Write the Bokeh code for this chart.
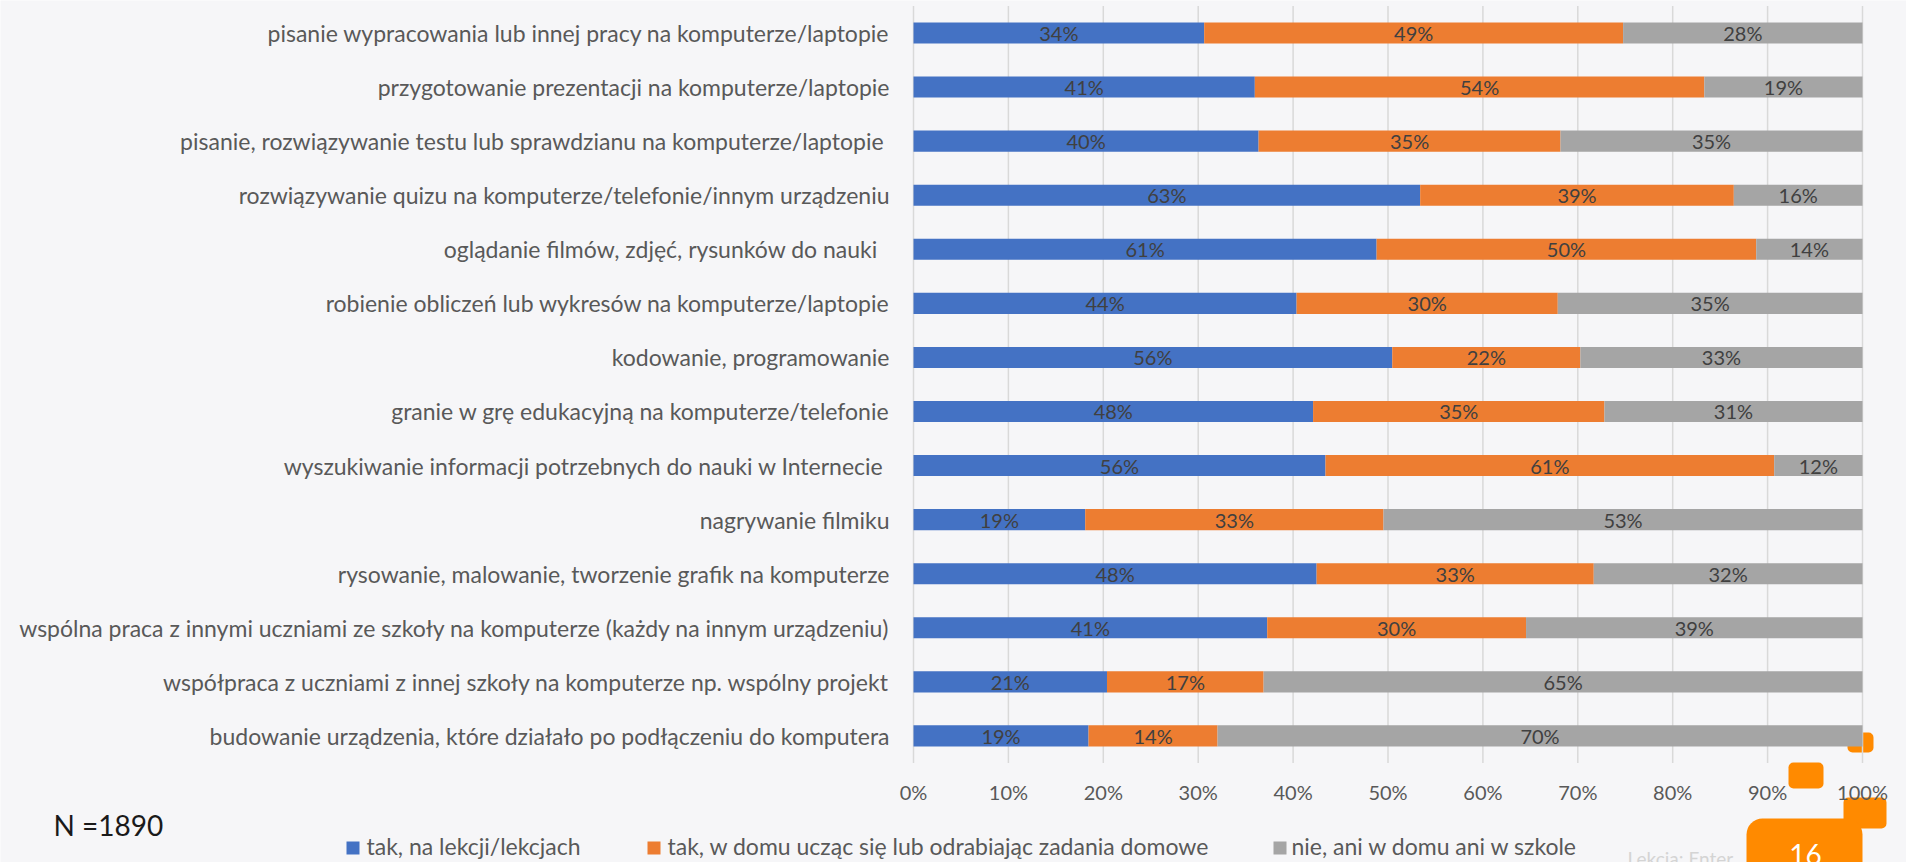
from bokeh.plotting import figure
from bokeh.models import ColumnDataSource, Range1d, Label, BoxAnnotation
from bokeh.core.properties import value
from bokeh.embed import file_html
from bokeh.resources import INLINE

# ---------------- data ----------------
categories = [
    "pisanie wypracowania lub innej pracy na komputerze/laptopie",
    "przygotowanie prezentacji na komputerze/laptopie",
    "pisanie, rozwiązywanie testu  lub sprawdzianu na komputerze/laptopie",
    "rozwiązywanie quizu na komputerze/telefonie/innym urządzeniu",
    "oglądanie filmów, zdjęć, rysunków do nauki  ",
    "robienie obliczeń lub wykresów na komputerze/laptopie",
    "kodowanie, programowanie",
    "granie w grę edukacyjną na komputerze/telefonie",
    "wyszukiwanie informacji  potrzebnych do nauki w Internecie",
    "nagrywanie filmiku",
    "rysowanie, malowanie, tworzenie grafik na komputerze",
    "wspólna praca z innymi uczniami ze szkoły na komputerze (każdy na innym urządzeniu)",
    "współpraca z uczniami z innej szkoły na komputerze np. wspólny projekt",
    "budowanie urządzenia, które działało po podłączeniu do komputera",
]
lesson = [34, 41, 40, 63, 61, 44, 56, 48, 56, 19, 48, 41, 21, 19]
home = [49, 54, 35, 39, 50, 30, 22, 35, 61, 33, 33, 30, 17, 14]
neither = [28, 19, 35, 16, 14, 35, 33, 31, 12, 53, 32, 39, 65, 70]
series_names = [
    "tak, na lekcji/lekcjach",
    "tak, w domu ucząc się lub odrabiając zadania domowe",
    "nie, ani w domu ani w szkole",
]
colors = ["#4472C4", "#ED7D31", "#A5A5A5"]
x_ticks = [0, 0.1, 0.2, 0.3, 0.4, 0.5, 0.6, 0.7, 0.8, 0.9, 1.0]
x_tick_labels = ["0%", "10%", "20%", "30%", "40%", "50%", "60%", "70%", "80%", "90%", "100%"]
n_text = "N =1890"
slide_no = "16"
slide_footer = "Lekcja: Enter"

BG = "#F6F6F8"
FONT = "Lato"

# ---------------- layout constants (pixels) ----------------
W, H = 1906, 862
X0, X1 = 913, 1862          # page x of 0% and 100%
Y0, DY = 32.5, 54.07        # page y of first category centre, category step

n = len(categories)
idx = list(range(n))

p = figure(width=W, height=H, output_backend="svg", toolbar_location=None,
           x_axis_type=None, y_axis_type=None,
           x_range=Range1d(-X0 / (X1 - X0), (W - X0) / (X1 - X0)),
           y_range=Range1d((H - Y0) / DY, -Y0 / DY),
           min_border=0, min_border_left=0, min_border_right=0,
           min_border_top=0, min_border_bottom=0)
p.background_fill_color = BG
p.border_fill_color = BG
p.outline_line_color = None
p.grid.visible = False


def sy(Y):
    # page y (from top) -> screen units (from bottom)
    return H - Y


# slide decorations (behind the chart)
ORANGE = "#FF8A00"
deco = [
    (1847, 1873, 732, 752, 5),
    (1788, 1823, 762, 788, 5),
    (1843, 1886, 797, 828, 5),
    (1746, 1862, 818, 900, 16),
]
for l, r, t, b, rad in deco:
    p.add_layout(BoxAnnotation(left=l, right=r, top=sy(t), bottom=sy(b),
                               left_units="screen", right_units="screen",
                               top_units="screen", bottom_units="screen",
                               fill_color=ORANGE, fill_alpha=1, line_color=None,
                               border_radius=rad, level="underlay"))

# vertical grid lines spanning the category bands
p.segment(x0=x_ticks, x1=x_ticks, y0=[-0.5] * len(x_ticks), y1=[n - 0.5] * len(x_ticks),
          line_color="#D9D9D9", line_width=1.5)

# stacked (normalised) bars with raw percentage labels
series = [lesson, home, neither]
totals = [a + b + c for a, b, c in zip(lesson, home, neither)]
lefts = [0.0] * n
for s, col in zip(series, colors):
    rights = [l + v / t for l, v, t in zip(lefts, s, totals)]
    src = ColumnDataSource(dict(
        y=idx, left=lefts, right=rights,
        mid=[(l + r) / 2 for l, r in zip(lefts, rights)],
        lab=[f"{v}%" for v in s]))
    p.hbar(y="y", left="left", right="right", height=0.39, source=src,
           fill_color=col, line_color=None)
    p.text(x="mid", y="y", text="lab", source=src, text_align="center",
           text_baseline="middle", text_font=value(FONT),
           text_font_size="20px", text_color="#404040")
    lefts = rights

# category labels (left axis)
p.text(x=[0] * n, y=idx, text=categories, x_offset=-24,
       text_align="right", text_baseline="middle", text_font=value(FONT),
       text_font_size="23px", text_color="#595959")

# x tick labels (bottom axis)
p.text(x=x_ticks, y=[n - 0.5] * len(x_ticks), text=x_tick_labels, y_offset=29,
       text_align="center", text_baseline="middle", text_font=value(FONT),
       text_font_size="20px", text_color="#595959")

# legend
leg_sq = [346, 647, 1273]
leg_tx = [366, 667, 1291]
for sq, tx, name, col in zip(leg_sq, leg_tx, series_names, colors):
    p.add_layout(BoxAnnotation(left=sq, right=sq + 13, top=sy(841), bottom=sy(854),
                               left_units="screen", right_units="screen",
                               top_units="screen", bottom_units="screen",
                               fill_color=col, fill_alpha=1, line_color=None))
    p.add_layout(Label(x=tx, y=sy(845), x_units="screen", y_units="screen",
                       text=name, text_font=FONT, text_font_size="23px",
                       text_color="#595959", text_baseline="middle", text_align="left"))

p.add_layout(Label(x=53, y=sy(824), x_units="screen", y_units="screen",
                   text=n_text, text_font=FONT, text_font_size="28px",
                   text_color="#1A1A1A", text_baseline="middle", text_align="left"))

p.add_layout(Label(x=1805, y=sy(843), x_units="screen", y_units="screen",
                   text=slide_no, text_font=FONT, text_font_size="28px",
                   text_color="white", text_baseline="top", text_align="center"))
p.add_layout(Label(x=1627, y=sy(846), x_units="screen", y_units="screen",
                   text=slide_footer, text_font=FONT, text_font_size="19px",
                   text_color="#D4D4D4", text_baseline="top", text_align="left"))

open("out.html", "w").write(file_html(p, INLINE))
